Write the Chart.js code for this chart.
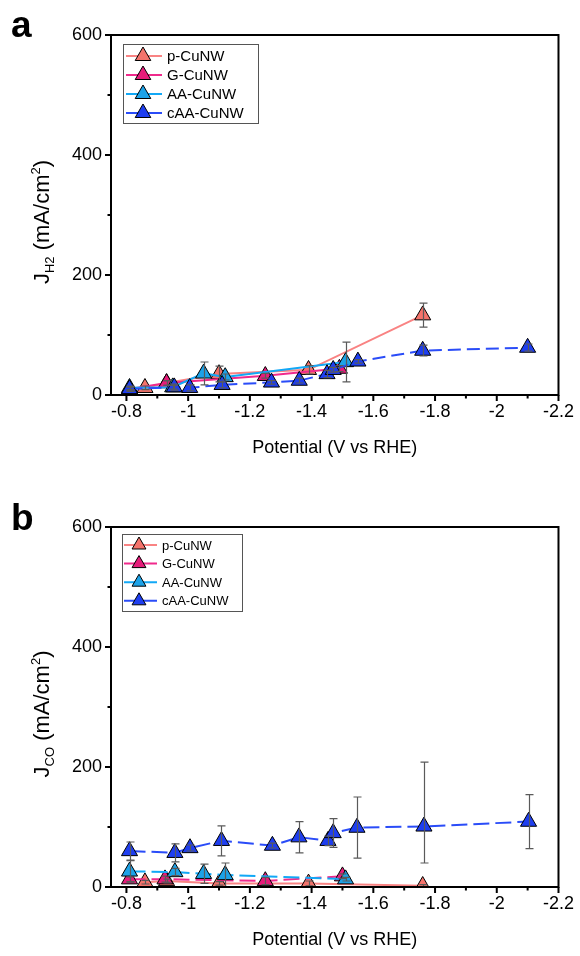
<!DOCTYPE html>
<html>
<head>
<meta charset="utf-8">
<script src="https://cdn.jsdelivr.net/npm/chart.js@4/dist/chart.umd.min.js"></script>
<style>
  html, body { margin: 0; padding: 0; background: #fff; }
  #wrap { position: relative; width: 580px; height: 956px; }
  .panel { position: absolute; left: 0; width: 580px; height: 478px; }
</style>
</head>
<body>
<div id="wrap">
  <div class="panel" style="top:0"><canvas id="chartA" width="580" height="478"></canvas></div>
  <div class="panel" style="top:478px"><canvas id="chartB" width="580" height="478"></canvas></div>
</div>
<script>
// ---- axis ticks ----
const xMajorTicks = [-0.8, -1.0, -1.2, -1.4, -1.6, -1.8, -2.0, -2.2];
const xTickLabels = ['-0.8', '-1', '-1.2', '-1.4', '-1.6', '-1.8', '-2', '-2.2'];
const xMinorTicks = [-0.9, -1.1, -1.3, -1.5, -1.7, -1.9, -2.1];
const yMajorTicks = [0, 200, 400, 600];
const yTickLabels = ['0', '200', '400', '600'];
const yMinorTicks = [100, 300, 500];

const seriesNames = ['p-CuNW', 'G-CuNW', 'AA-CuNW', 'cAA-CuNW'];

// ---- panel a: J_H2 (mA/cm2) ----
const h2_p_x   = [-0.86, -0.93, -1.10, -1.39, -1.76];
const h2_p_y   = [12, 20, 35, 42, 133];
const h2_p_err = [3, 4, 13, 7, 20];

const h2_g_x   = [-0.81, -0.93, -1.25, -1.49];
const h2_g_y   = [10, 20, 32, 44];
const h2_g_err = [3, 4, 4, 5];

const h2_aa_x   = [-0.81, -0.95, -1.05, -1.12, -1.51];
const h2_aa_y   = [12, 13, 36, 30, 55];
const h2_aa_err = [3, 3, 19, 5, 33];

const h2_caa_x   = [-0.81, -0.955, -1.005, -1.11, -1.27, -1.36, -1.45, -1.47, -1.55, -1.76, -2.10];
const h2_caa_y   = [10, 13, 12, 17, 21, 24, 35, 42, 56, 74, 79];
const h2_caa_err = [4, 5, 5, 5, 3, 4, 6, 4, 3, 9, 6];

// ---- panel b: J_CO (mA/cm2) ----
const co_p_x   = [-0.86, -0.93, -1.10, -1.39, -1.76];
const co_p_y   = [8, 10, 6, 6, 2];
const co_p_err = [3, 3, 3, 4, 2];

const co_g_x   = [-0.81, -0.925, -1.25, -1.50];
const co_g_y   = [13, 13, 10, 18];
const co_g_err = [4, 5, 6, 4];

const co_aa_x   = [-0.81, -0.957, -1.05, -1.12, -1.51];
const co_aa_y   = [26, 25, 22, 20, 13];
const co_aa_err = [18, 6, 16, 20, 3];

const co_caa_x      = [-0.81, -0.957, -1.006, -1.108, -1.273, -1.359, -1.453, -1.47, -1.547, -1.764, -2.103];
const co_caa_y      = [60, 57, 65, 77, 69, 83, 77, 90, 99, 101, 109];
const co_caa_errUp  = [15, 15, 5, 25, 4, 26, 8, 24, 51, 107, 45];
const co_caa_errDn  = [15, 15, 5, 25, 4, 26, 8, 24, 51, 61, 45];

// ---- styling ----
const FONT = 'Arial, "Liberation Sans", Helvetica, sans-serif';
const fillColors = ['#F4736B', '#E61C7A', '#1CA2E8', '#1E3EF0'];
const lineColors = ['#F98383', '#F02A8C', '#12A8F6', '#2A4CF8'];

function makeSet(idx, xs, ys, up, down, dash) {
  return {
    label: seriesNames[idx],
    data: xs.map((x, i) => ({ x: x, y: ys[i] })),
    errUp: up,
    errDown: down || up,
    borderColor: lineColors[idx],
    backgroundColor: fillColors[idx],
    pointBackgroundColor: fillColors[idx],
    pointBorderColor: '#000',
    pointBorderWidth: 1,
    pointStyle: 'triangle',
    pointRadius: 9.3,
    pointHoverRadius: 9.3,
    borderWidth: 2,
    borderDash: dash ? dash : [],
    showLine: true,
    fill: false,
    tension: 0,
    order: 3 - idx
  };
}

function drawRich(ctx, parts, cx, cy) {
  ctx.save();
  ctx.translate(cx, cy);
  ctx.rotate(-Math.PI / 2);
  let total = 0;
  parts.forEach(p => { ctx.font = p.size + 'px ' + FONT; p.w = ctx.measureText(p.t).width; total += p.w; });
  let x = -total / 2;
  ctx.fillStyle = '#000';
  ctx.textBaseline = 'alphabetic';
  ctx.textAlign = 'left';
  parts.forEach(p => { ctx.font = p.size + 'px ' + FONT; ctx.fillText(p.t, x, p.dy || 0); x += p.w; });
  ctx.restore();
}

// frame, minor/major tick marks, error bars, axis title, panel letter, legend
const decorPlugin = {
  id: 'decor',
  afterDatasetsDraw(chart) {
    const ctx = chart.ctx, ys = chart.scales.y;
    ctx.save();
    ctx.strokeStyle = '#5a5a5a';
    ctx.lineWidth = 1.2;
    ctx.setLineDash([]);
    chart.data.datasets.forEach((ds, di) => {
      const meta = chart.getDatasetMeta(di);
      meta.data.forEach((pt, i) => {
        const v = ds.data[i].y;
        const top = ys.getPixelForValue(v + ds.errUp[i]);
        const bot = ys.getPixelForValue(v - ds.errDown[i]);
        const x = Math.round(pt.x) + 0.5;
        ctx.beginPath();
        ctx.moveTo(x, top); ctx.lineTo(x, bot);
        ctx.moveTo(x - 4, top); ctx.lineTo(x + 4, top);
        ctx.moveTo(x - 4, bot); ctx.lineTo(x + 4, bot);
        ctx.stroke();
      });
    });
    ctx.restore();
  },
  afterDraw(chart) {
    const ctx = chart.ctx, a = chart.chartArea, xs = chart.scales.x, ys = chart.scales.y;
    const o = chart.options.plugins.decor;
    ctx.save();
    ctx.strokeStyle = '#000';
    ctx.lineWidth = 2;
    ctx.setLineDash([]);
    ctx.strokeRect(a.left, a.top, a.right - a.left, a.bottom - a.top);
    ctx.beginPath();
    xMajorTicks.forEach(v => { const p = xs.getPixelForValue(v); ctx.moveTo(p, a.bottom); ctx.lineTo(p, a.bottom + 6); });
    xMinorTicks.forEach(v => { const p = xs.getPixelForValue(v); ctx.moveTo(p, a.bottom); ctx.lineTo(p, a.bottom + 3.5); });
    yMajorTicks.forEach(v => { const p = ys.getPixelForValue(v); ctx.moveTo(a.left, p); ctx.lineTo(a.left - 6, p); });
    yMinorTicks.forEach(v => { const p = ys.getPixelForValue(v); ctx.moveTo(a.left, p); ctx.lineTo(a.left - 3.5, p); });
    ctx.stroke();

    // y axis title with sub/superscripts
    drawRich(ctx, o.yTitle, 49, (a.top + a.bottom) / 2 + 7);

    // panel letter
    ctx.fillStyle = '#000';
    ctx.font = 'bold 37px ' + FONT;
    ctx.textBaseline = 'alphabetic';
    ctx.textAlign = 'left';
    ctx.fillText(o.letter, 11, o.letterY);

    // legend
    const L = o.legend;
    ctx.fillStyle = '#fff';
    ctx.fillRect(L.left, L.top, L.right - L.left, L.bottom - L.top);
    ctx.strokeStyle = '#555';
    ctx.lineWidth = 1;
    ctx.strokeRect(L.left + 0.5, L.top + 0.5, L.right - L.left, L.bottom - L.top);
    const byIdx = chart.data.datasets.slice().sort((p, q) => q.order - p.order);
    byIdx.forEach((ds, i) => {
      const y = L.row0 + i * L.step;
      ctx.strokeStyle = ds.borderColor;
      ctx.lineWidth = 2;
      ctx.setLineDash([]);
      ctx.beginPath(); ctx.moveTo(L.line0, y); ctx.lineTo(L.line1, y); ctx.stroke();
      const r = L.r;
      ctx.beginPath();
      ctx.moveTo(L.mx, y - r);
      ctx.lineTo(L.mx + r * 0.866, y + r * 0.5);
      ctx.lineTo(L.mx - r * 0.866, y + r * 0.5);
      ctx.closePath();
      ctx.fillStyle = ds.pointBackgroundColor;
      ctx.fill();
      ctx.strokeStyle = '#000';
      ctx.lineWidth = 1;
      ctx.stroke();
      ctx.fillStyle = '#000';
      ctx.font = L.font + 'px ' + FONT;
      ctx.textBaseline = 'middle';
      ctx.fillText(ds.label, L.tx, y + 1);
    });
    ctx.restore();
  }
};

function makeChart(id, datasets, cfg) {
  return new Chart(document.getElementById(id), {
    type: 'line',
    data: { datasets: datasets },
    plugins: [decorPlugin],
    options: {
      responsive: false,
      animation: false,
      events: [],
      layout: { padding: { top: cfg.top, right: 21, bottom: 0, left: 0 } },
      plugins: {
        legend: { display: false },
        title: { display: false },
        tooltip: { enabled: false },
        decor: cfg.decor
      },
      scales: {
        x: {
          type: 'linear',
          min: -2.2, max: -0.75,
          reverse: true,
          grid: { display: false, drawTicks: false },
          border: { display: false },
          afterBuildTicks: s => { s.ticks = xMajorTicks.map(v => ({ value: v })); },
          afterFit: s => { s.height = cfg.xHeight; },
          ticks: {
            autoSkip: false, maxRotation: 0, padding: 6, color: '#000',
            font: { family: FONT, size: 18 },
            callback: (v, i) => xTickLabels[i]
          },
          title: {
            display: true, text: 'Potential (V vs RHE)', color: '#000',
            font: { family: FONT, size: 18 },
            padding: { top: 0, bottom: cfg.titlePad }
          }
        },
        y: {
          type: 'linear',
          min: 0, max: 600,
          grid: { display: false, drawTicks: false },
          border: { display: false },
          afterBuildTicks: s => { s.ticks = yMajorTicks.map(v => ({ value: v })); },
          afterFit: s => { s.width = 111; },
          ticks: {
            autoSkip: false, padding: 9, color: '#000',
            font: { family: FONT, size: 18 },
            callback: (v, i) => yTickLabels[i]
          }
        }
      }
    }
  });
}

makeChart('chartA', [
  makeSet(0, h2_p_x, h2_p_y, h2_p_err),
  makeSet(1, h2_g_x, h2_g_y, h2_g_err),
  makeSet(2, h2_aa_x, h2_aa_y, h2_aa_err),
  makeSet(3, h2_caa_x, h2_caa_y, h2_caa_err, null, [13, 6])
], {
  top: 35, xHeight: 83, titlePad: 19,
  decor: {
    letter: 'a', letterY: 37,
    yTitle: [{ t: 'J', size: 22 }, { t: 'H2', size: 13, dy: 5 }, { t: ' (mA/cm', size: 22 }, { t: '2', size: 13, dy: -9 }, { t: ')', size: 22 }],
    legend: { left: 123, top: 44, right: 258, bottom: 123, row0: 56, step: 19, line0: 126, line1: 162, mx: 143, r: 9, tx: 167, font: 15 }
  }
});

makeChart('chartB', [
  makeSet(0, co_p_x, co_p_y, co_p_err),
  makeSet(1, co_g_x, co_g_y, co_g_err, null, [16, 6]),
  makeSet(2, co_aa_x, co_aa_y, co_aa_err, null, [16, 6]),
  makeSet(3, co_caa_x, co_caa_y, co_caa_errUp, co_caa_errDn, [16, 6])
], {
  top: 49, xHeight: 69, titlePad: 5,
  decor: {
    letter: 'b', letterY: 52,
    yTitle: [{ t: 'J', size: 22 }, { t: 'CO', size: 13, dy: 5 }, { t: ' (mA/cm', size: 22 }, { t: '2', size: 13, dy: -9 }, { t: ')', size: 22 }],
    legend: { left: 122, top: 534 - 478, right: 242, bottom: 611 - 478, row0: 545 - 478, step: 18.6, line0: 124, line1: 157, mx: 139, r: 8, tx: 162, font: 13 }
  }
});
</script>
</body>
</html>
